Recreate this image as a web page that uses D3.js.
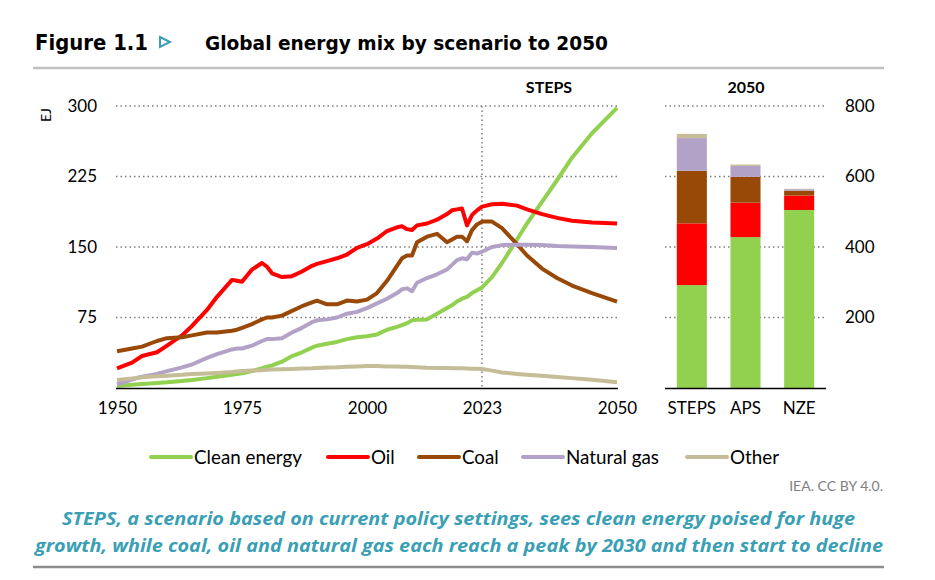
<!DOCTYPE html>
<html><head><meta charset="utf-8">
<script src="https://cdn.jsdelivr.net/npm/d3@7"></script>
<style>body{margin:0;background:#fff}svg{display:block}</style>
</head><body>
<svg id="c" width="935" height="580"></svg>
<script>
const years = [1950,1953,1955,1958,1960,1963,1965,1968,1970,1973,1974,1975,1977,1979,1980,1981,1983,1985,1987,1989,1990,1992,1994,1996,1998,2000,2002,2004,2006,2007,2008,2009,2010,2012,2014,2016,2017,2018,2019,2020,2021,2022,2023,2025,2027,2030,2032,2035,2038,2041,2045,2050];
const clean = [2.5,3.5,4.3,5.3,6,7.5,8.5,10.5,12,14,15,15.6,18,21,22.7,24,28,34,38,43,45,47,49,52,54,55,57,62,65,67,69,72,72.5,73,79,85,88,92,95,97,101,104,107,118,133,158,175,198,221,245,271,298];
const oil = [21,27,34,38,45,56,66,83,97,115,114,113,126,133,129,122,118,119,124,130,132,135,138,142,149,153,159,167,171,172,169,168,173,175,179,185,189,190,191,173,184,189,193,195.5,196,194,190,185,181,178,176,175];
const coal = [39,42,44,50,53,54,56,59,59,61,62,64,68,73,75,75,77,82,87,91,93,89,89,93,92,94,101,114,130,138,141,141,155,161,164,155,158,161,161,156,168,174,177,177,170,153,141,127,117,109,101,92];
const gas = [4,9,12,15,18,22,25,32,36,41,42,42,45,50,52,52,53,59,64,70,72,73,75,79,81,85,90,95,101,105,106,103,112,117,121,126,131,136,138,137,144,143,145,150,152,152.5,152.5,152,151,150.5,150,149];
const other = [8.5,10,11.5,12.5,13,14,15,15.5,16,17,17.5,18,18.5,19,19.5,19.7,20,20.3,20.7,21,21.3,21.8,22,22.5,23,23.3,23.3,23,22.8,22.7,22.5,22.3,22,21.5,21.3,21.2,21,21,21,20.7,20.5,20.4,20.3,18.5,16.5,15,14.2,13,11.8,10.5,8.8,6];
const seriesNames = ["Clean energy","Oil","Coal","Natural gas","Other"];
const seriesColors = ["#92d050","#ff0000","#984807","#b3a2c7","#c4bd97"];
const xTicks = [1950,1975,2000,2023,2050];
const yTicks = [75,150,225,300];
const scenarios = ["STEPS","APS","NZE"];
const barClean = [292,428,505];
const barOil = [175,98,41];
const barCoal = [149,73,14];
const barGas = [93,31,4];
const barOther = [12,4,1];
const y2Ticks = [200,400,600,800];

const svg = d3.select("#c");
const FONT = "Lato, 'Open Sans', sans-serif";

// header
svg.append("text").attr("x",35).attr("y",50).attr("font-family","'DejaVu Sans'").attr("font-weight",700)
  .attr("font-size",21).attr("fill","#000").attr("textLength",113).attr("lengthAdjust","spacingAndGlyphs").text("Figure 1.1");
svg.append("path").attr("d","M160,37 L170,42 L160,47 Z").attr("fill","none").attr("stroke","#3a9fb5").attr("stroke-width",2);
svg.append("text").attr("x",205).attr("y",50).attr("font-family","'DejaVu Sans'").attr("font-weight",700)
  .attr("font-size",19).attr("fill","#000").attr("textLength",403).attr("lengthAdjust","spacingAndGlyphs").text("Global energy mix by scenario to 2050");
svg.append("line").attr("x1",33).attr("x2",884).attr("y1",68).attr("y2",68).attr("stroke","#c0c0c0").attr("stroke-width",2.5);

// scales
const x = d3.scaleLinear().domain([1950,2050]).range([117,617]);
const y = d3.scaleLinear().domain([0,300]).range([388,106]);
const y2 = d3.scaleLinear().domain([0,800]).range([388,106]);
const xb = d3.scaleBand().domain(scenarios).range([665,826]).paddingInner(0.44).paddingOuter(0.22);

// left axis & grid
const yAxis = d3.axisLeft(y).tickValues(yTicks).tickSize(0).tickPadding(19);
const ya = svg.append("g").attr("transform","translate(116,0)").call(yAxis);
ya.select(".domain").remove();
ya.selectAll("text").attr("font-family",FONT).attr("font-size",17).attr("fill","#000");
yTicks.forEach(t=>{
  svg.append("line").attr("x1",116).attr("x2",617).attr("y1",y(t)).attr("y2",y(t))
    .attr("stroke","#7f7f7f").attr("stroke-width",1.5).attr("stroke-dasharray","1.5,3");
});
svg.append("line").attr("x1",x(2023)).attr("x2",x(2023)).attr("y1",y(300)).attr("y2",y(0))
  .attr("stroke","#7f7f7f").attr("stroke-width",1.5).attr("stroke-dasharray","1.5,3");

svg.append("text").attr("transform","translate(51,115) rotate(-90)").attr("text-anchor","middle")
  .attr("font-family",FONT).attr("font-size",14).attr("fill","#000").text("EJ");

// x axis
const xAxis = d3.axisBottom(x).tickValues(xTicks).tickFormat(d3.format("d")).tickSize(0).tickPadding(14);
const xa = svg.append("g").attr("transform","translate(0,388)").call(xAxis);
xa.select(".domain").remove();
xa.selectAll("text").attr("font-family",FONT).attr("font-size",17).attr("fill","#000");

// lines
const seriesData = [clean,oil,coal,gas,other];
const line = d3.line().x((d,i)=>x(years[i])).y(d=>y(d)).curve(d3.curveLinear);
seriesData.forEach((s,k)=>{
  svg.append("path").datum(s).attr("d",line).attr("fill","none")
    .attr("stroke",seriesColors[k]).attr("stroke-width",4).attr("stroke-linejoin","round").attr("stroke-linecap","butt");
});
svg.append("line").attr("x1",116).attr("x2",618).attr("y1",388.5).attr("y2",388.5).attr("stroke","#000").attr("stroke-width",1.5);

svg.append("text").attr("x",549).attr("y",93).attr("text-anchor","middle").attr("font-family",FONT)
  .attr("font-weight",700).attr("font-size",16).text("STEPS");

// right panel
y2Ticks.forEach(t=>{
  svg.append("line").attr("x1",665).attr("x2",826).attr("y1",y2(t)).attr("y2",y2(t))
    .attr("stroke","#7f7f7f").attr("stroke-width",1.5).attr("stroke-dasharray","1.5,3");
});
const y2Axis = d3.axisRight(y2).tickValues(y2Ticks).tickSize(0).tickPadding(19);
const y2a = svg.append("g").attr("transform","translate(826,0)").call(y2Axis);
y2a.select(".domain").remove();
y2a.selectAll("text").attr("font-family",FONT).attr("font-size",17).attr("fill","#000");

const barRows = scenarios.map((s,i)=>({scen:s, vals:[barClean[i],barOil[i],barCoal[i],barGas[i],barOther[i]]}));
const stack = d3.stack().keys([0,1,2,3,4]).value((d,k)=>d.vals[k]);
const stacked = stack(barRows);
stacked.forEach((layer,k)=>{
  svg.append("g").selectAll("rect").data(layer).join("rect")
    .attr("x",d=>xb(d.data.scen)).attr("width",xb.bandwidth())
    .attr("y",d=>y2(d[1])).attr("height",d=>y2(d[0])-y2(d[1]))
    .attr("fill",seriesColors[k]);
});
svg.append("line").attr("x1",665).attr("x2",826).attr("y1",388.5).attr("y2",388.5).attr("stroke","#000").attr("stroke-width",1.5);
const xbAxis = d3.axisBottom(xb).tickSize(0).tickPadding(14);
const xba = svg.append("g").attr("transform","translate(0,388)").call(xbAxis);
xba.select(".domain").remove();
xba.selectAll("text").attr("font-family",FONT).attr("font-size",17).attr("fill","#000");
svg.append("text").attr("x",746).attr("y",93).attr("text-anchor","middle").attr("font-family",FONT)
  .attr("font-weight",700).attr("font-size",16).text("2050");

// legend
const legX = [151,328,419,523,687];
seriesNames.forEach((n,k)=>{
  svg.append("line").attr("x1",legX[k]).attr("x2",legX[k]+40).attr("y1",457).attr("y2",457)
    .attr("stroke",seriesColors[k]).attr("stroke-width",4).attr("stroke-linecap","round");
  svg.append("text").attr("x",legX[k]+43).attr("y",463.5).attr("font-family",FONT).attr("font-size",18.8)
    .attr("fill","#000").text(n);
});

svg.append("text").attr("x",883).attr("y",491).attr("text-anchor","end").attr("font-family",FONT)
  .attr("font-size",14).attr("fill","#7f7f7f").text("IEA. CC BY 4.0.");

const capLines = ["STEPS, a scenario based on current policy settings, sees clean energy poised for huge",
  "growth, while coal, oil and natural gas each reach a peak by 2030 and then start to decline"];
const capX = [62,35];
const capW = [793,848];
capLines.forEach((t,i)=>{
  svg.append("text").attr("x",capX[i]).attr("y",525+i*27).attr("font-family","'Open Sans'")
    .attr("font-style","italic").attr("font-weight",700).attr("font-size",17.5).attr("fill","#3a9fb5")
    .attr("textLength",capW[i]).attr("lengthAdjust","spacingAndGlyphs").text(t);
});
svg.append("line").attr("x1",33).attr("x2",884).attr("y1",567).attr("y2",567).attr("stroke","#8c8c8c").attr("stroke-width",2.5);
</script>
</body></html>
